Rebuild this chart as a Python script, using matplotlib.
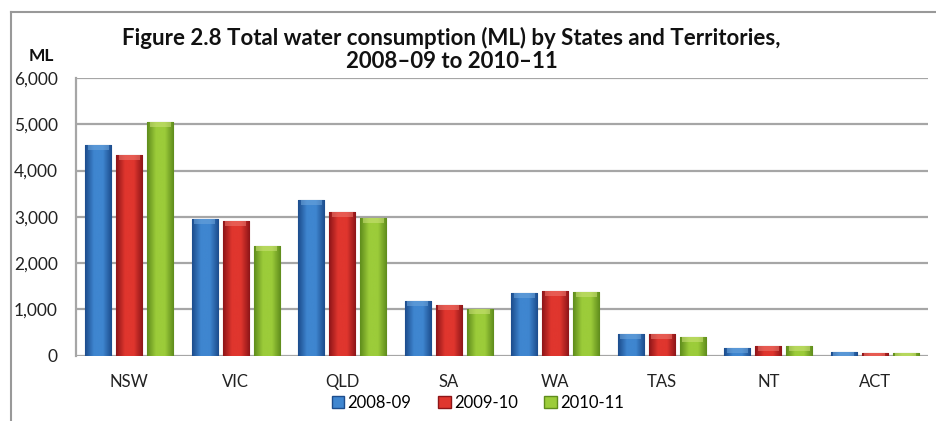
import numpy as np
import matplotlib
matplotlib.use("Agg")
import matplotlib.pyplot as plt
from matplotlib.patches import Patch
from matplotlib.lines import Line2D
from matplotlib.colors import LinearSegmentedColormap

states = ["NSW", "VIC", "QLD", "SA", "WA", "TAS", "NT", "ACT"]
years = ["2008-09", "2009-10", "2010-11"]
ml_0809 = [4560, 2950, 3355, 1180, 1360, 480, 165, 80]
ml_0910 = [4330, 2910, 3100, 1095, 1390, 480, 210, 65]
ml_1011 = [5050, 2375, 2980, 1015, 1375, 400, 210, 50]
yticks = [0, 1000, 2000, 3000, 4000, 5000, 6000]

# dark edge, light middle, light top cap
shades = [
    ("#1c4c8c", "#3f86d0", "#6fa6dc"),
    ("#8e1518", "#e0362e", "#ee7a70"),
    ("#5f8c1c", "#9ccc3a", "#cde27a"),
]

plt.rcParams['font.family'] = ['Lato', 'DejaVu Sans']
fig = plt.figure(figsize=(9.37, 4.21), dpi=100)
ax = fig.add_axes([0.0811, 0.155, 0.9093, 0.660])

x = np.arange(len(states))
off = 0.29
w = 0.245
grid_c = "#a6a6a6"

for yv in yticks:
    ax.axhline(yv, color=grid_c, lw=1.6, zorder=1)

for i, vals in enumerate([ml_0809, ml_0910, ml_1011]):
    dark, mid, top = shades[i]
    bars = ax.bar(x + (i - 1) * off, vals, w, color=mid, edgecolor=dark,
                  linewidth=0.8, zorder=3)
    cmap = LinearSegmentedColormap.from_list("g", [dark, mid, mid, dark])
    grad = np.linspace(0, 1, 64).reshape(1, -1)
    for b in bars:
        bx, bw, bh = b.get_x(), b.get_width(), b.get_height()
        im = ax.imshow(grad, cmap=cmap, aspect="auto", zorder=4,
                       extent=[bx, bx + bw, 0, bh], interpolation="bicubic")
        im.set_clip_path(b)
        cap = min(bh, 110)
        ax.bar(bx + bw / 2, cap, bw * 0.8, bottom=bh - cap, color=top,
               alpha=0.55, linewidth=0, zorder=5)

ax.set_xlim(-0.5, len(states) - 0.5)
ax.set_ylim(0, 6000)
ax.set_xticks(x)
ax.set_xticklabels(states, fontsize=12, color="#222222")
ax.set_yticks(yticks)
ax.set_yticklabels([f"{v:,}" for v in yticks], fontsize=12.5, color="#222222")
ax.tick_params(axis="x", length=0, pad=13)
ax.tick_params(axis="y", length=0, pad=13)
for s in ["top", "right", "bottom"]:
    ax.spines[s].set_visible(False)
ax.spines["left"].set_color(grid_c)
ax.spines["left"].set_linewidth(1.6)

fig.text(0.482, 0.882, "Figure 2.8 Total water consumption (ML) by States and Territories,\n2008\u201309 to 2010\u201311",
         ha="center", va="center", fontsize=16, fontweight="bold", linespacing=1.15, color="#111111")
fig.text(0.0443, 0.866, "ML", ha="center", va="center", fontsize=12.5, fontweight="bold", color="#111111")

handles = [Patch(facecolor=s[1], edgecolor=s[0]) for s in shades]
fig.legend(handles, years, loc="center", bbox_to_anchor=(0.51, 0.043), ncol=3,
           frameon=False, fontsize=12, handlelength=0.75, handleheight=0.75,
           handletextpad=0.2, columnspacing=1.6)

# outer frame (top and left only)
fig.add_artist(Line2D([11 / 937, 1], [1 - 12 / 421, 1 - 12 / 421], color="#999999", lw=1.5))
fig.add_artist(Line2D([11 / 937, 11 / 937], [0, 1 - 12 / 421], color="#999999", lw=1.5))

fig.savefig("out.png", dpi=100)
